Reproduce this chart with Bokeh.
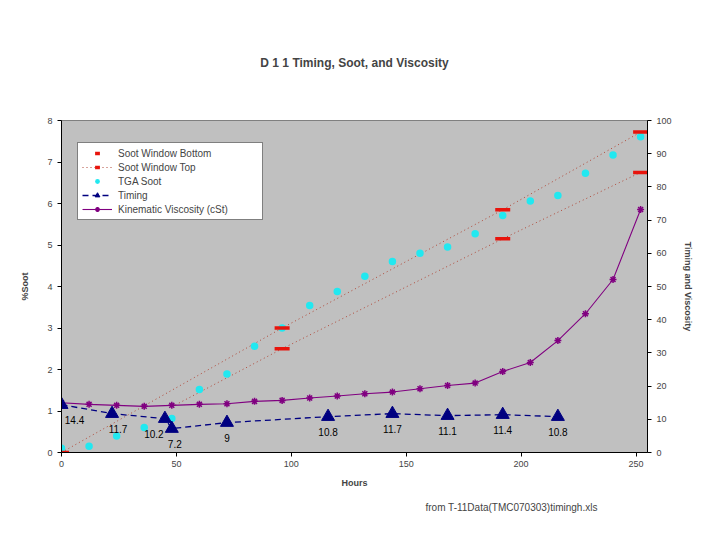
from bokeh.plotting import figure
from bokeh.models import Range1d, LinearAxis, Legend, LegendItem, Title, FixedTicker
from bokeh.core.properties import value
from bokeh.embed import file_html
from bokeh.resources import INLINE

# soot window limits (%Soot, left axis)
win_hours = [0, 96, 192, 252]
win_bottom = [0, 2.5, 5.15, 6.75]
top_hours = [0, 96, 192, 252]
win_top = [0, 3.0, 5.85, 7.72]
bottom_line_hours = [48, 96, 192, 252]
bottom_line = [1.1, 2.5, 5.15, 6.75]

# TGA soot (%Soot)
tga_hours = [0, 12, 24, 36, 48, 60, 72, 84, 96, 108, 120, 132, 144, 156,
             168, 180, 192, 204, 216, 228, 240, 252]
tga_soot = [0.1, 0.15, 0.4, 0.6, 0.82, 1.52, 1.89, 2.56, 3.0, 3.54, 3.88,
            4.25, 4.6, 4.8, 4.95, 5.27, 5.71, 6.06, 6.19, 6.73, 7.17, 7.61]

# timing (right axis)
timing_hours = [0, 22, 45, 48, 72, 116, 144, 168, 192, 216]
timing = [14.4, 11.7, 10.2, 7.2, 9, 10.8, 11.7, 11.1, 11.4, 10.8]
timing_labels = ["14.4", "11.7", "10.2", "7.2", "9", "10.8", "11.7", "11.1", "11.4", "10.8"]
label_dx = [13, 6, -11, 3, 0, 0, 0, 0, 0, 0]

# kinematic viscosity (right axis)
visc_hours = tga_hours
viscosity = [15.0, 14.5, 14.2, 13.9, 14.2, 14.5, 14.7, 15.4, 15.7, 16.4, 17.0,
             17.7, 18.2, 19.2, 20.2, 20.9, 24.4, 27.1, 33.7, 41.8, 52.1, 73.2]

FONT = "Liberation Sans"

p = figure(width=704, height=524, x_range=Range1d(0, 255), y_range=Range1d(0, 8),
           output_backend="svg", toolbar_location=None,
           background_fill_color="#C0C0C0", border_fill_color="white",
           min_border_left=61, min_border_right=57, min_border_top=120,
           min_border_bottom=72)
p.extra_y_ranges = {"right": Range1d(0, 100)}

p.title.text = "D 1 1 Timing, Soot, and Viscosity"
p.title.align = "center"
p.title.text_font = FONT
p.title.text_font_size = "12px"
p.title.text_font_style = "bold"
p.title.standoff = 102

p.xgrid.visible = False
p.ygrid.visible = False
p.outline_line_color = "#808080"

p.xaxis.ticker = FixedTicker(ticks=[0, 50, 100, 150, 200, 250])
p.yaxis.ticker = FixedTicker(ticks=list(range(0, 9)))
p.xaxis.axis_label = "Hours"
p.yaxis.axis_label = "%Soot"

right = LinearAxis(y_range_name="right", axis_label="Timing and Viscosity",
                   ticker=FixedTicker(ticks=list(range(0, 101, 10))))
p.add_layout(right, "right")

for ax in p.axis:
    ax.axis_line_color = "black"
    ax.major_tick_line_color = "black"
    ax.major_tick_out = 4
    ax.major_tick_in = 0
    ax.minor_tick_line_color = None
    ax.major_label_text_font = FONT
    ax.major_label_text_font_size = "9px"
    ax.axis_label_text_font = FONT
    ax.axis_label_text_font_size = "9px"
    ax.axis_label_text_font_style = "bold"
    ax.axis_label_standoff = 10
right.axis_label_standoff = 8
p.yaxis[0].axis_label_standoff = 14
p.xaxis[0].axis_label_standoff = 8
p.xaxis[0].major_label_standoff = 4

# dotted window lines
top_line = p.line(top_hours, win_top, line_color="#B04838", line_width=1, line_dash="1 3")
p.line(bottom_line_hours, bottom_line, line_color="#B04838", line_width=1, line_dash="1 3")

# TGA soot dots
tga = p.scatter(tga_hours, tga_soot, marker="circle", size=7.5, fill_color="#22E8F0",
                line_color=None)

# viscosity
visc_line = p.line(visc_hours, viscosity, y_range_name="right", line_color="#800080", line_width=1.1)
visc_pts = p.scatter(visc_hours, viscosity, y_range_name="right", marker="asterisk",
                     size=7, line_color="#800080", line_width=1.5)

# timing
tim_line = p.line(timing_hours, timing, y_range_name="right", line_color="#000080",
                  line_width=1.3, line_dash="6 4")
tim_pts = p.scatter(timing_hours, timing, y_range_name="right", marker="triangle",
                    size=13, fill_color="#000080", line_color="#000080")
p.text(timing_hours, timing, text=timing_labels, y_range_name="right",
       x_offset=label_dx, y_offset=15, text_align="center", text_baseline="middle",
       text_font=value(FONT), text_font_size="10px", text_color="black")

# red window markers
bot_marks = p.scatter(win_hours, win_bottom, marker="dash", size=15, line_color="#E8140C",
                      line_width=3.5)
top_marks = p.scatter(top_hours[1:], win_top[1:], marker="dash", size=15, line_color="#E8140C",
                      line_width=3.5)

legend = Legend(items=[
    LegendItem(label="Soot Window Bottom", renderers=[bot_marks]),
    LegendItem(label="Soot Window Top", renderers=[top_line, top_marks]),
    LegendItem(label="TGA Soot", renderers=[tga]),
    LegendItem(label="Timing", renderers=[tim_line, tim_pts]),
    LegendItem(label="Kinematic Viscosity (cSt)", renderers=[visc_line, visc_pts]),
], location=(16, 232))
legend.label_text_font = FONT
legend.label_text_font_size = "10px"
legend.glyph_width = 30
legend.glyph_height = 12
legend.label_height = 12
legend.label_width = 140
legend.label_standoff = 6
legend.spacing = 2
legend.padding = 4
legend.margin = 0
legend.border_line_color = "black"
legend.background_fill_color = "white"
legend.background_fill_alpha = 1
p.add_layout(legend, "center")

footer = Title(text="from T-11Data(TMC070303)timingh.xls", align="left", offset=364,
               standoff=19, text_font=FONT, text_font_size="10px", text_font_style="normal")
p.add_layout(footer, "below")

open("out.html", "w").write(file_html(p, INLINE))
